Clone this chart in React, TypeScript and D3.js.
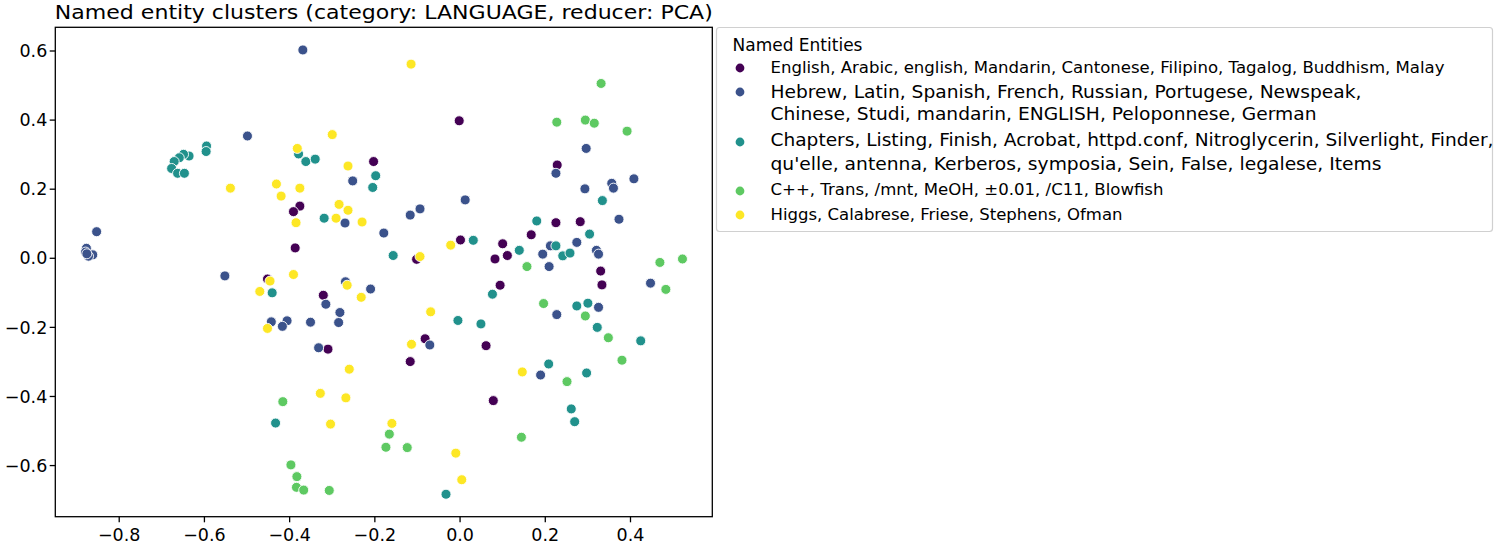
import * as d3 from "d3";

const WIDTH = 1495;
const HEIGHT = 544;
const PLOT = { left: 55.3, right: 712.3, top: 27.3, bottom: 516.7 };
const FONT = "'DejaVu Sans', sans-serif";

const TITLE = "Named entity clusters (category: LANGUAGE, reducer: PCA)";
const LEGEND_TITLE = "Named Entities";

const X_TICKS = [-0.8, -0.6, -0.4, -0.2, 0.0, 0.2, 0.4];
const Y_TICKS = [-0.6, -0.4, -0.2, 0.0, 0.2, 0.4, 0.6];

// viridis(5)
const COLORS = ["#440154", "#3b528b", "#21918c", "#5ec962", "#fde725"];

// legend text, wrapped the way the reference shows it
const LABELS = [
  ["English, Arabic, english, Mandarin, Cantonese, Filipino, Tagalog, Buddhism, Malay"],
  ["Hebrew, Latin, Spanish, French, Russian, Portugese, Newspeak,", "Chinese, Studi, mandarin, ENGLISH, Peloponnese, German"],
  ["Chapters, Listing, Finish, Acrobat, httpd.conf, Nitroglycerin, Silverlight, Finder,", "qu'elle, antenna, Kerberos, symposia, Sein, False, legalese, Items"],
  ["C++, Trans, /mnt, MeOH, \u00b10.01, /C11, Blowfish"],
  ["Higgs, Calabrese, Friese, Stephens, Ofman"],
];

const cluster0 = [
  [-0.203, 0.28], [-0.376, 0.151], [-0.391, 0.135], [-0.387, 0.03], [-0.002, 0.398],
  [0.228, 0.27], [0.001, 0.053], [0.225, 0.103], [0.282, 0.106], [0.167, 0.068],
  [0.1, 0.042], [0.111, 0.008], [0.082, -0.002], [-0.102, -0.003], [0.33, -0.037],
  [0.333, -0.077], [0.094, -0.078], [-0.082, -0.233], [-0.117, -0.299], [0.061, -0.253],
  [0.078, -0.412], [-0.452, -0.06], [-0.321, -0.107], [-0.31, -0.263],
];

const cluster1 = [
  [-0.369, 0.603], [-0.499, 0.354], [-0.853, 0.077], [-0.877, 0.029], [-0.879, 0.018],
  [-0.862, 0.01], [-0.872, 0.006], [-0.876, 0.013], [-0.252, 0.224], [-0.27, 0.102],
  [-0.179, 0.073], [0.296, 0.318], [0.225, 0.246], [0.293, 0.201], [0.356, 0.217],
  [0.36, 0.203], [0.408, 0.23], [0.012, 0.169], [-0.094, 0.143], [-0.117, 0.125],
  [0.274, 0.046], [0.373, 0.113], [0.212, 0.036], [0.194, 0.012], [0.32, 0.023],
  [0.325, 0.012], [0.209, -0.024], [0.447, -0.072], [-0.21, -0.089], [0.227, -0.163],
  [0.325, -0.142], [-0.071, -0.251], [0.189, -0.338], [-0.552, -0.051], [-0.269, -0.068],
  [-0.315, -0.133], [-0.282, -0.157], [-0.285, -0.186], [-0.351, -0.185], [-0.443, -0.184],
  [-0.406, -0.181], [-0.417, -0.197], [-0.332, -0.259],
];

const cluster2 = [
  [-0.595, 0.325], [-0.596, 0.309], [-0.636, 0.296], [-0.649, 0.301], [-0.659, 0.291],
  [-0.671, 0.28], [-0.677, 0.26], [-0.663, 0.246], [-0.647, 0.246], [-0.379, 0.302],
  [-0.362, 0.28], [-0.34, 0.287], [-0.198, 0.239], [-0.205, 0.205], [-0.319, 0.116],
  [0.334, 0.167], [0.031, 0.052], [0.18, 0.108], [0.304, 0.07], [0.139, 0.023],
  [0.225, 0.036], [0.241, 0.007], [0.258, 0.015], [-0.157, 0.008], [0.076, -0.104],
  [0.274, -0.138], [0.3, -0.13], [0.322, -0.2], [0.424, -0.239], [-0.005, -0.18],
  [0.049, -0.19], [0.208, -0.306], [0.297, -0.332], [0.261, -0.436], [0.269, -0.473],
  [-0.033, -0.683], [-0.441, -0.1], [-0.433, -0.477],
];

const cluster3 = [
  [0.331, 0.506], [0.227, 0.394], [0.294, 0.4], [0.315, 0.391], [0.392, 0.368],
  [0.157, -0.024], [0.469, -0.012], [0.522, -0.002], [0.483, -0.09], [0.196, -0.131],
  [0.294, -0.167], [0.348, -0.23], [0.38, -0.295], [0.251, -0.357], [0.144, -0.518],
  [-0.166, -0.509], [-0.174, -0.547], [-0.124, -0.548], [-0.416, -0.415], [-0.397, -0.598],
  [-0.383, -0.632], [-0.384, -0.663], [-0.367, -0.671], [-0.307, -0.672],
];

const cluster4 = [
  [-0.539, 0.203], [-0.3, 0.358], [-0.382, 0.318], [-0.263, 0.267], [-0.431, 0.215],
  [-0.42, 0.18], [-0.376, 0.203], [-0.385, 0.103], [-0.284, 0.156], [-0.263, 0.139],
  [-0.291, 0.116], [-0.23, 0.105], [-0.115, 0.562], [-0.022, 0.038], [-0.094, 0.005],
  [-0.232, -0.113], [-0.069, -0.155], [-0.114, -0.249], [0.146, -0.329], [-0.16, -0.478],
  [-0.01, -0.564], [0.004, -0.641], [-0.446, -0.066], [-0.391, -0.047], [-0.47, -0.096],
  [-0.265, -0.078], [-0.452, -0.203], [-0.26, -0.321], [-0.328, -0.391], [-0.268, -0.404],
  [-0.304, -0.48],
];

const CLUSTERS = [cluster0, cluster1, cluster2, cluster3, cluster4];

const LEGEND_BOX = { x: 716.5, y: 27.5, w: 776, h: 204 };
const LEGEND_ROWS = [
  { lines: [73], marker: 68, size: 15.5, widths: [674] },
  { lines: [98, 120], marker: 92, size: 17, widths: [591, 546] },
  { lines: [146, 170], marker: 142, size: 17, widths: [723, 611] },
  { lines: [195], marker: 191, size: 15.5, widths: [393] },
  { lines: [220], marker: 215, size: 15.5, widths: [352] },
];

export default function App() {
  const x = d3.scaleLinear().domain([-0.95, 0.592]).range([PLOT.left, PLOT.right]);
  const y = d3.scaleLinear().domain([-0.748, 0.6686]).range([PLOT.bottom, PLOT.top]);
  const fmt = d3.format(".1f");
  const midX = (PLOT.left + PLOT.right) / 2;

  return (
    <svg
      width={WIDTH}
      height={HEIGHT}
      style={{ position: "fixed", left: 0, top: 0, background: "#fff" }}
      fontFamily={FONT}
    >
      <rect width={WIDTH} height={HEIGHT} fill="#fff" />

      <text x={midX} y={18.5} textAnchor="middle" fontSize={19.5} textLength={658} lengthAdjust="spacingAndGlyphs">
        {TITLE}
      </text>

      {CLUSTERS.map((pts, ci) => (
        <g key={ci}>
          {pts.map((p, i) => (
            <circle key={i} cx={x(p[0])} cy={y(p[1])} r={5} fill={COLORS[ci]} stroke="#fff" strokeWidth={0.9} />
          ))}
        </g>
      ))}

      <rect
        x={PLOT.left}
        y={PLOT.top}
        width={PLOT.right - PLOT.left}
        height={PLOT.bottom - PLOT.top}
        fill="none"
        stroke="#000"
        strokeWidth={1.3}
      />

      {X_TICKS.map((t) => (
        <g key={`x${t}`}>
          <line x1={x(t)} x2={x(t)} y1={PLOT.bottom} y2={PLOT.bottom + 5.6} stroke="#000" strokeWidth={1.3} />
          <text x={x(t)} y={PLOT.bottom + 24} textAnchor="middle" fontSize={17.5}>
            {fmt(t)}
          </text>
        </g>
      ))}

      {Y_TICKS.map((t) => (
        <g key={`y${t}`}>
          <line x1={PLOT.left - 5.6} x2={PLOT.left} y1={y(t)} y2={y(t)} stroke="#000" strokeWidth={1.3} />
          <text x={PLOT.left - 8} y={y(t)} dy="0.35em" textAnchor="end" fontSize={17.5}>
            {fmt(t)}
          </text>
        </g>
      ))}

      <rect
        x={LEGEND_BOX.x}
        y={LEGEND_BOX.y}
        width={LEGEND_BOX.w}
        height={LEGEND_BOX.h}
        rx={3}
        fill="#fff"
        stroke="#d0d0d0"
        strokeWidth={1.2}
      />
      <text x={732.5} y={51} fontSize={17}>
        {LEGEND_TITLE}
      </text>
      {LEGEND_ROWS.map((row, ri) => (
        <g key={ri}>
          <circle cx={740} cy={row.marker} r={4.4} fill={COLORS[ri]} />
          {LABELS[ri].map((line, li) => (
            <text
              key={li}
              x={770.5}
              y={row.lines[li]}
              fontSize={row.size}
              textLength={row.widths[li]}
              lengthAdjust="spacingAndGlyphs"
            >
              {line}
            </text>
          ))}
        </g>
      ))}
    </svg>
  );
}
